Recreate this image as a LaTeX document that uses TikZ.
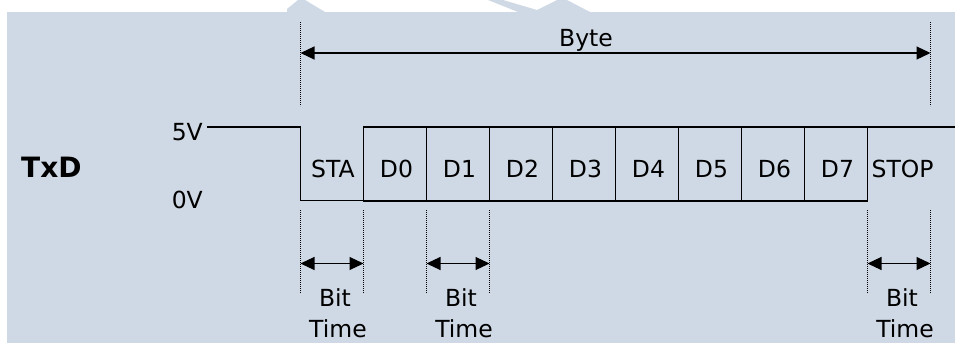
\documentclass[tikz,border=0pt]{standalone}
\usepackage{fontspec}
\setmainfont{DejaVu Sans}
\usepackage{xcolor}
\usetikzlibrary{calc}
\usetikzlibrary{arrows.meta, positioning}
\definecolor{panel}{RGB}{207,217,229}

\begin{document}
\begin{tikzpicture}[x=1pt, y=-1pt, line join=miter,
        txt/.style={font=\fontsize{23.5}{28}\selectfont, inner sep=0pt, anchor=base},
        sig/.style={line width=1.2pt},
        guide/.style={line width=0.8pt, dash pattern=on 0.8pt off 1.2pt},
        dim/.style={{Triangle[length=14pt,width=13pt]}-{Triangle[length=14pt,width=13pt]}, line width=1.1pt}]
            % frame
            \useasboundingbox (0,0) rectangle (955,343);
            \fill[panel] (7,12) rectangle (955,343);
            % watermark traces
            \fill[panel] (287,12) -- (287,9) -- (298,0) -- (305,0) -- (325,12) -- cycle;
            \fill[panel] (488,0) -- (503,0) -- (537,10) -- (557,0) -- (567,0) -- (590,12) -- (518,12) -- cycle;

            % bit edges on the 5V level
            \foreach \k in {0,...,10}
                \coordinate (e\k) at ({300.5+63*\k},127);
            \coordinate (hi) at (207,127);
            \coordinate (tail) at (955,127);

            % signal: idle, start bit, data bits, stop
            \draw[sig] (hi) -- (e0) -- ($(e0)+(0,73.5)$) -- ($(e1)+(0,73.5)$);
            \foreach \k in {1,...,8}
                \draw[sig] (e\k) rectangle ($(e\k)+(63,74)$);
            \draw[sig] (e9) -- (tail);

            % levels and name
            \node[txt, anchor=base east] (high) at (203,140) {5V};
            \node[txt, anchor=base east] (low) at (203,208) {0V};
            \node[font=\bfseries\fontsize{28}{32}\selectfont, inner sep=0pt, anchor=base west] (txd) at (21,177) {TxD};

            % bit names
            \node[txt] (sta) at (333,177.5) {STA};
            \foreach \k in {0,...,7}
                \node[txt] (d\k) at ({333.5+63*(\k+1)},177.5) {D\k};
            \node[txt, anchor=base west] (stop) at (871.5,177.5) {STOP};

            % byte length
            \draw[guide] ($(e0)+(0,-105)$) -- ($(e0)+(0,-21)$);
            \draw[guide] ($(e10)+(0,-105)$) -- ($(e10)+(0,-21)$);
            \draw[dim] ($(e0)+(0,-74)$) -- ($(e10)+(0,-74)$);
            \node[txt] (byte) at (586,46.5) {Byte};

            % bit times
            \foreach \k in {0,1,2,3,9,10}
                \draw[guide] ($(e\k)+(0,83)$) -- ($(e\k)+(0,166)$);
            \foreach \a/\b/\n in {0/1/1, 2/3/2, 9/10/3} {
                \draw[dim] ($(e\a)+(0,136.5)$) -- ($(e\b)+(0,136.5)$);
                \coordinate (m\n) at ($(e\a)!0.5!(e\b)$);
                \node[txt] (bit\n) at ($(m\n)+(3,179)$) {Bit};
                \node[txt] (time\n) at ($(m\n)+(6,210)$) {Time};
            }
        \end{tikzpicture}
\end{document}
